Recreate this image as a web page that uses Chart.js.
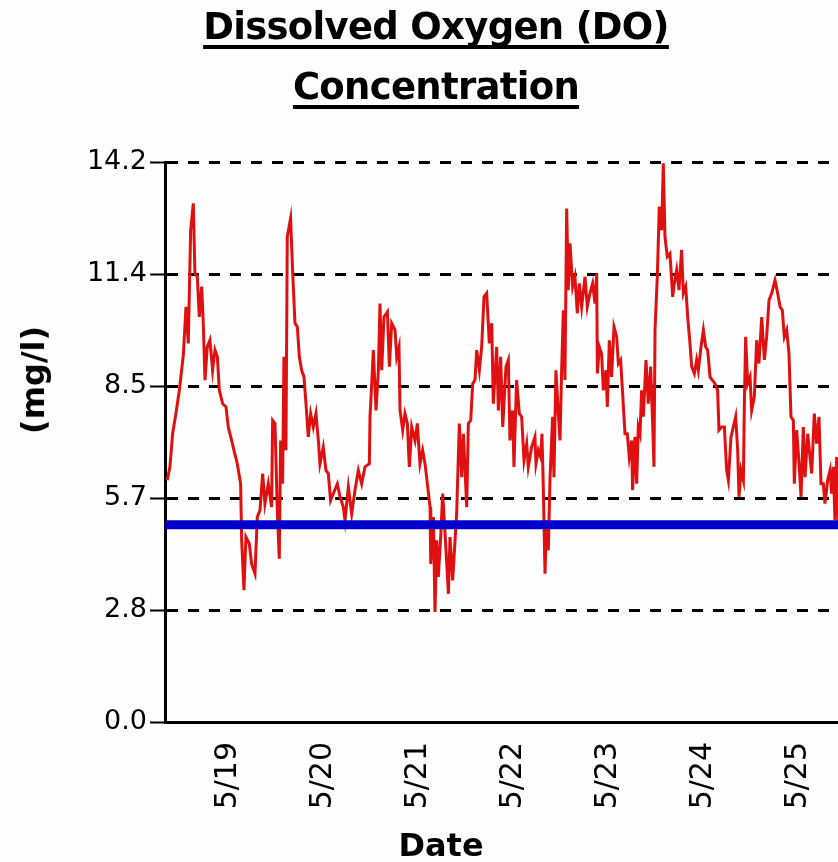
<!DOCTYPE html>
<html>
<head>
<meta charset="utf-8">
<script src="https://cdn.jsdelivr.net/npm/chart.js@4/dist/chart.umd.min.js"></script>
<style>
  html,body{margin:0;padding:0;background:#fefefe;}
  #wrap{position:relative;width:838px;height:862px;overflow:hidden;}
  canvas{position:absolute;left:0;top:0;}
  .t{position:absolute;left:0;width:872px;text-align:center;font:bold 37px "DejaVu Sans";line-height:37px;
     letter-spacing:-0.7px;color:#000;text-decoration:underline;text-decoration-thickness:4px;text-underline-offset:6px;
     text-decoration-skip-ink:none;white-space:nowrap;}
  .ax{position:absolute;font:bold 32px "DejaVu Sans";line-height:32px;color:#000;white-space:nowrap;transform:translate(-50%,-50%);}
</style>
</head>
<body>
<div id="wrap">
  <canvas id="c" width="838" height="862"></canvas>
  <div class="t" style="top:8px">Dissolved Oxygen (DO)</div>
  <div class="t" style="top:68px">Concentration</div>
  <div class="ax" style="left:33px;top:380px;transform:translate(-50%,-50%) rotate(-90deg)">(mg/l)</div>
  <div class="ax" style="left:441px;top:845px">Date</div>
</div>
<script>
// time in days of May (fractional), DO in mg/l
const times = [
  18.361,18.389,18.417,18.452,18.488,18.530,18.558,18.582,18.607,18.635,18.652,18.677,18.698,18.723,18.740,18.758,
  18.782,18.810,18.838,18.863,18.888,18.909,18.944,18.979,19.003,19.038,19.063,19.098,19.133,19.144,19.168,19.189,
  19.224,19.249,19.284,19.309,19.337,19.365,19.389,19.424,19.459,19.470,19.495,19.519,19.540,19.554,19.575,19.589,
  19.610,19.624,19.659,19.680,19.705,19.730,19.751,19.775,19.800,19.821,19.845,19.870,19.898,19.926,19.951,19.968,
  20.003,20.031,20.056,20.080,20.151,20.179,20.214,20.232,20.267,20.302,20.337,20.372,20.407,20.442,20.488,20.495,
  20.513,20.530,20.558,20.583,20.600,20.618,20.642,20.678,20.699,20.723,20.758,20.776,20.800,20.811,20.839,20.863,
  20.888,20.909,20.934,20.969,20.993,21.021,21.049,21.074,21.099,21.127,21.134,21.162,21.179,21.197,21.214,21.239,
  21.260,21.285,21.320,21.337,21.365,21.390,21.407,21.435,21.460,21.478,21.513,21.530,21.555,21.576,21.600,21.618,
  21.646,21.670,21.695,21.723,21.751,21.776,21.793,21.828,21.846,21.870,21.892,21.926,21.951,21.968,21.996,22.010,
  22.038,22.067,22.091,22.116,22.144,22.161,22.196,22.231,22.242,22.267,22.291,22.305,22.319,22.337,22.354,22.372,
  22.389,22.417,22.431,22.452,22.477,22.495,22.512,22.530,22.547,22.565,22.582,22.600,22.628,22.652,22.677,22.698,
  22.723,22.758,22.782,22.810,22.838,22.863,22.881,22.888,22.909,22.933,22.951,22.979,22.993,23.014,23.038,23.063,
  23.091,23.109,23.133,23.154,23.179,23.203,23.224,23.249,23.259,23.284,23.302,23.319,23.337,23.354,23.372,23.400,
  23.424,23.449,23.470,23.484,23.495,23.519,23.540,23.565,23.582,23.600,23.624,23.652,23.681,23.698,23.723,23.747,
  23.775,23.793,23.818,23.839,23.863,23.881,23.909,23.933,23.951,23.979,24.004,24.028,24.049,24.074,24.098,24.126,
  24.154,24.168,24.196,24.225,24.249,24.267,24.295,24.319,24.344,24.365,24.379,24.400,24.425,24.435,24.449,24.470,
  24.495,24.512,24.540,24.565,24.589,24.618,24.646,24.670,24.695,24.723,24.758,24.786,24.811,24.835,24.856,24.881,
  24.905,24.926,24.951,24.961,24.986,25.011,25.032,25.056,25.074,25.102,25.126,25.144,25.172,25.196,25.221,25.242,
  25.267,25.284,25.312,25.337,25.354,25.372,25.389,25.407,25.418,25.424
];
const doValues = [
  6.13,6.47,7.31,7.82,8.41,9.30,10.53,9.60,12.47,13.15,11.37,11.29,10.27,11.04,10.11,8.67,
  9.51,9.68,8.92,9.43,9.26,8.41,8.07,7.99,7.48,7.14,6.89,6.55,6.04,4.61,3.34,4.69,
  4.52,4.01,3.76,5.20,5.37,6.30,5.54,6.04,5.45,7.65,7.57,5.37,4.14,7.14,6.04,9.26,
  6.89,12.30,12.77,11.46,10.11,10.02,9.26,8.92,8.75,8.07,7.23,7.82,7.48,7.82,7.14,6.55,
  6.97,6.38,6.30,5.62,6.04,5.71,5.45,5.11,5.96,5.28,5.88,6.38,6.04,6.47,6.55,7.74,
  8.58,9.43,7.90,8.92,10.61,8.92,10.27,10.40,9.01,10.11,9.94,9.26,9.51,7.90,7.40,7.82,
  7.57,6.47,7.48,7.14,7.57,6.55,6.89,6.55,6.04,5.45,4.01,5.20,2.79,4.61,3.68,4.69,
  5.79,4.78,3.25,4.69,3.59,4.61,5.28,7.57,6.21,7.31,5.45,7.57,7.65,8.58,8.67,9.43,
  8.92,9.51,10.78,10.87,9.60,10.11,8.07,9.51,7.90,9.26,7.48,9.01,9.18,7.14,7.90,6.47,
  8.67,7.82,7.74,6.64,7.06,6.47,6.97,7.23,6.55,6.89,6.72,7.31,5.96,3.76,5.11,4.35,
  6.13,7.74,6.21,8.92,7.82,7.14,8.92,10.44,8.67,13.02,10.95,12.14,11.04,11.29,10.36,11.12,
  10.53,11.29,10.53,10.87,11.12,10.61,11.37,8.84,9.51,9.34,8.41,8.92,7.99,9.68,8.75,10.02,
  9.77,9.09,9.18,8.33,7.31,7.31,6.72,7.14,5.88,7.23,6.04,7.48,7.31,8.41,7.74,9.18,
  8.07,9.01,7.57,6.47,9.94,11.29,13.07,12.47,14.17,12.30,11.80,11.88,10.78,11.12,11.46,10.95,
  11.97,10.87,11.04,10.27,9.60,9.01,8.84,9.18,8.92,9.51,9.94,9.51,9.43,8.75,8.67,8.58,
  8.41,7.40,7.48,7.48,6.38,6.13,7.23,7.48,7.74,6.89,5.71,6.38,6.13,7.99,9.77,8.58,
  8.75,7.90,8.24,9.68,9.09,10.27,9.18,9.77,10.70,10.87,11.20,10.87,10.53,10.44,9.77,9.94,
  9.34,7.74,7.65,6.04,7.40,6.55,5.71,7.48,6.21,7.31,6.72,6.30,7.82,7.06,7.74,6.04,
  6.04,5.54,6.13,6.38,5.79,6.47,5.11,6.72,6.04,4.95
];
const dayTicks  = [19, 20, 21, 22, 23, 24, 25];
const dayLabels = ['5/19', '5/20', '5/21', '5/22', '5/23', '5/24', '5/25'];
const yTicks    = [0, 2.84, 5.68, 8.52, 11.36, 14.2];
const xRange    = [18.337, 25.421];
const yRange    = [0, 14.2];
const threshold = 5.0;

const doPoints = times.map((t,i)=>({x:t, y:doValues[i]}));
const limitPoints = xRange.map(t=>({x:t, y:threshold}));

new Chart(document.getElementById('c'), {
  type:'line',
  data:{datasets:[
    {label:'limit', data:limitPoints, borderColor:'#0000cc', borderWidth:9, pointRadius:0, order:0},
    {label:'DO', data:doPoints, borderColor:'#e01010', borderWidth:3, pointRadius:0, tension:0, order:1}
  ]},
  options:{
    responsive:false, animation:false,
    layout:{padding:{top:162, left:0, right:0, bottom:0}},
    plugins:{legend:{display:false}, tooltip:{enabled:false}},
    scales:{
      x:{
        type:'linear', min:xRange[0], max:xRange[1],
        afterBuildTicks:(s)=>{ s.ticks = dayTicks.map(v=>({value:v})); },
        afterFit:(s)=>{ s.height = 140; s.paddingLeft = 0; s.paddingRight = 0; },
        grid:{display:false, drawTicks:false},
        border:{display:true, color:'#000', width:3},
        ticks:{color:'#000', font:{family:'DejaVu Sans', size:30}, padding:20, minRotation:90, maxRotation:90,
               autoSkip:false, callback:(v)=>dayLabels[dayTicks.indexOf(v)]}
      },
      y:{
        min:yRange[0], max:yRange[1],
        afterBuildTicks:(s)=>{ s.ticks = yTicks.map(v=>({value:v})); },
        afterFit:(s)=>{ s.width = 165; s.paddingTop = 0; s.paddingBottom = 0; },
        grid:{color:'#000', lineWidth:3, tickLength:15, tickColor:'#000', tickWidth:2, tickBorderDash:[]},
        border:{display:true, color:'#000', width:3, dash:[11,10]},
        ticks:{color:'#000', font:{family:'DejaVu Sans', size:27}, padding:3, autoSkip:false, callback:(v)=>Number(v).toFixed(1)}
      }
    }
  }
});
</script>
</body>
</html>
